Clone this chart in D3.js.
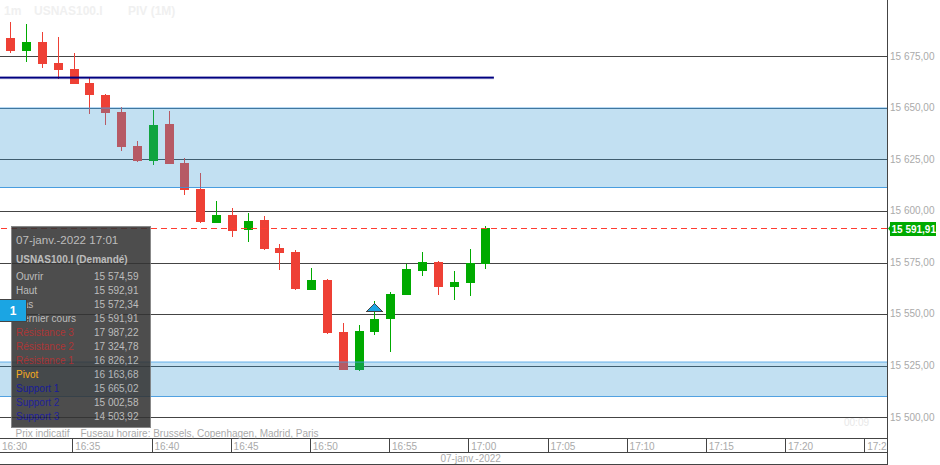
<!DOCTYPE html>
<html>
<head>
<meta charset="utf-8">
<script src="https://cdn.jsdelivr.net/npm/d3@7"></script>
<style>
  body { margin: 0; background: #fff; }
  svg { display: block; font-family: "Liberation Sans", Arial, sans-serif; }
  .crisp { shape-rendering: crispEdges; }
</style>
</head>
<body>
<svg width="940" height="465"></svg>
<script>
const minutes = ["16:31","16:32","16:33","16:34","16:35","16:36","16:37","16:38","16:39","16:40",
  "16:41","16:42","16:43","16:44","16:45","16:46","16:47","16:48","16:49","16:50",
  "16:51","16:52","16:53","16:54","16:55","16:56","16:57","16:58","16:59","17:00","17:01"];
const opens = [15684,15677.65,15682,15671.85,15668.95,15662.15,15656.35,15648.1,15631.6,15624.5,
  15642.3,15623.4,15610.75,15594.3,15598.15,15590.9,15595.75,15582.15,15580.2,15561.8,
  15566.65,15541.45,15523,15541.45,15547.75,15559.4,15571,15575.4,15563.25,15565.2,15574.59];
const closes = [15677.65,15682,15671.5,15668.6,15661.8,15656.35,15647.6,15631.25,15624.5,15641.8,
  15623.05,15610.4,15594.8,15598.15,15590.4,15595.25,15581.7,15579.75,15562.3,15566.65,
  15541,15523,15541.95,15547.75,15559.85,15572,15575.4,15563.25,15565.7,15574.9,15591.91];
const highs = [15691.7,15690.75,15686.9,15684.45,15676.7,15664.9,15656.8,15650.5,15634.05,15649.05,
  15648.6,15625.8,15618.5,15604.95,15601.55,15599.15,15597.7,15584.1,15581.2,15572.45,
  15567.15,15545.8,15544.85,15556.5,15560.85,15574.4,15580.2,15575.85,15571,15581.7,15592.91];
const lows = [15676.85,15672.5,15669.55,15664.25,15661.8,15647.25,15641.8,15629.35,15623.85,15622.55,
  15623.05,15607.85,15594.6,15594.3,15587.65,15585.1,15581.2,15571.5,15561.8,15561.8,
  15540.5,15523,15522.7,15540,15531.75,15559.4,15568.6,15559.4,15557,15558.9,15572.34];

const yTicks = [15500,15525,15550,15575,15600,15625,15650,15675];
const xTicks = ["16:30","16:35","16:40","16:45","16:50","16:55","17:00","17:05","17:10","17:15","17:20","17:25"];

const bandTops = [15650,15527];
const bandBottoms = [15611.6,15510.4];
const pivotLine = 15664.9;
const lastPrice = 15591.91;

const rowLabels = ["Ouvrir","Haut","Bas","Dernier cours","Résistance 3","Résistance 2","Résistance 1","Pivot","Support 1","Support 2","Support 3"];
const rowValues = ["15 574,59","15 592,91","15 572,34","15 591,91","17 987,22","17 324,78","16 826,12","16 163,68","15 665,02","15 002,58","14 503,92"];
const rowColors = ["#b4b4b4","#b4b4b4","#b4b4b4","#b4b4b4","#a01818","#a01818","#a01818","#ffa500","#00008b","#00008b","#00008b"];

const svg = d3.select("svg");
const axisX = 887;
const parseTime = d3.timeParse("%H:%M");
const priceFormat = (d) => d3.format(",.2f")(d).replace(",", " ").replace(".", ",");

const xScale = d3
  .scaleTime()
  .domain([parseTime("16:31"), parseTime("17:01")])
  .range([10.66, 485.86]);

const yScale = d3.scaleLinear().domain([15500, 15675]).range([417.8, 56.8]);

// watermark
const watermark = svg.append("g").attr("fill", "#f0f0f0").attr("font-size", 12).attr("font-weight", "bold");
watermark.append("text").attr("x", 4).attr("y", 15).text("1m");
watermark.append("text").attr("x", 34).attr("y", 15).text("USNAS100.I");
watermark.append("text").attr("x", 128).attr("y", 15).text("PIV (1M)");
svg.append("text").attr("x", 844).attr("y", 426).attr("fill", "#e8e8e8").attr("font-size", 10).text("00:09");

// grid and price labels
const yAxisG = svg
  .append("g")
  .attr("transform", `translate(${axisX}, 0)`)
  .call(
    d3.axisRight(yScale)
      .tickValues(yTicks)
      .tickSize(-axisX)
      .tickPadding(3)
      .tickFormat(priceFormat)
      .offset(0)
  );
yAxisG.select(".domain").remove();
yAxisG.selectAll("line").attr("stroke", "#444").attr("class", "crisp");
yAxisG.selectAll("text")
  .attr("fill", "#aaa")
  .attr("font-size", 10)
  .attr("font-family", "Liberation Sans, Arial, sans-serif")
  .attr("dy", "0.27em");

// candles
const candles = minutes.map((m, i) => ({
  x: Math.floor(xScale(parseTime(m))),
  open: opens[i],
  close: closes[i],
  high: highs[i],
  low: lows[i],
}));
const candleColor = (d) => (d.close < d.open ? "#ee4035" : "#00aa00");

const candleG = svg.append("g").attr("class", "crisp");
candleG.selectAll("line")
  .data(candles)
  .enter()
  .append("line")
  .attr("x1", (d) => d.x + 0.5)
  .attr("x2", (d) => d.x + 0.5)
  .attr("y1", (d) => yScale(d.high))
  .attr("y2", (d) => yScale(d.low))
  .attr("stroke", candleColor);
candleG.selectAll("rect")
  .data(candles)
  .enter()
  .append("rect")
  .attr("x", (d) => d.x - 4)
  .attr("width", 9)
  .attr("y", (d) => yScale(Math.max(d.open, d.close)))
  .attr("height", (d) => Math.abs(yScale(d.open) - yScale(d.close)))
  .attr("fill", candleColor);

// pivot zones, they sit over the candles
const bandG = svg.append("g").attr("class", "crisp");
bandG.selectAll("rect")
  .data(bandTops)
  .enter()
  .append("rect")
  .attr("x", 0)
  .attr("width", axisX)
  .attr("y", (d) => yScale(d))
  .attr("height", (d, i) => yScale(bandBottoms[i]) - yScale(d))
  .attr("fill", "rgba(53,152,213,0.3)");
bandG.selectAll("line.top")
  .data(bandTops)
  .enter()
  .append("line")
  .attr("class", "top")
  .attr("x1", 0)
  .attr("x2", axisX)
  .attr("y1", (d) => yScale(d))
  .attr("y2", (d) => yScale(d))
  .attr("stroke", "rgba(70,160,230,0.4)")
  .attr("stroke-width", 2);
bandG.selectAll("line.bottom")
  .data(bandBottoms)
  .enter()
  .append("line")
  .attr("class", "bottom")
  .attr("x1", 0)
  .attr("x2", axisX)
  .attr("y1", (d) => yScale(d))
  .attr("y2", (d) => yScale(d))
  .attr("stroke", "rgba(50,145,220,0.85)");

// navy line, stops half a bar after the last candle
svg.append("line")
  .attr("x1", 0)
  .attr("x2", xScale(parseTime("17:01")) + 8)
  .attr("y1", yScale(pivotLine))
  .attr("y2", yScale(pivotLine))
  .attr("stroke", "#000080")
  .attr("stroke-width", 1.6);
svg.append("line")
  .attr("x1", 0)
  .attr("x2", xScale(parseTime("17:01")) + 8)
  .attr("y1", yScale(pivotLine))
  .attr("y2", yScale(pivotLine))
  .attr("stroke", "#000080")
  .attr("stroke-opacity", 0.25)
  .attr("stroke-width", 3);

// last price
const lastY = Math.floor(yScale(lastPrice)) + 0.5;
svg.append("line")
  .attr("x1", 1)
  .attr("x2", axisX)
  .attr("y1", lastY)
  .attr("y2", lastY)
  .attr("stroke", "#ff3b30")
  .attr("stroke-dasharray", "6 4");

// x axis frame
const frame = svg.append("g").attr("class", "crisp").attr("stroke", "#444");
frame.append("line").attr("x1", axisX + 0.5).attr("x2", axisX + 0.5).attr("y1", 0).attr("y2", 465);
[438.5, 452.5, 464.5].forEach((y) => {
  frame.append("line").attr("x1", 0).attr("x2", axisX).attr("y1", y).attr("y2", y);
});

svg.append("clipPath").attr("id", "x-clip")
  .append("rect").attr("x", 0).attr("y", 430).attr("width", axisX).attr("height", 35);

const xAxisG = svg
  .append("g")
  .attr("clip-path", "url(#x-clip)")
  .append("g")
  .attr("transform", "translate(-1.2, 439)")
  .call(
    d3.axisBottom(xScale)
      .tickValues(xTicks.map(parseTime))
      .tickSize(13)
      .tickFormat(d3.timeFormat("%H:%M"))
      .offset(0)
  );
xAxisG.select(".domain").remove();
xAxisG.selectAll("line").attr("stroke", "#444").attr("class", "crisp");
xAxisG.selectAll("text")
  .attr("fill", "#aaa")
  .attr("font-size", 10)
  .attr("font-family", "Liberation Sans, Arial, sans-serif")
  .attr("text-anchor", "start")
  .attr("y", 3.5)
  .attr("dy", "0.71em")
  .attr("x", (d) => Math.max(3.2, xScale(d) + 2.4) - xScale(d));

svg.append("text").attr("x", 470.7).attr("y", 462).attr("text-anchor", "middle")
  .attr("fill", "#aaa").attr("font-size", 10).text("07-janv.-2022");
svg.append("text").attr("x", 15.5).attr("y", 436.5)
  .attr("fill", "#aaa").attr("font-size", 10).text("Prix indicatif");
svg.append("text").attr("x", 80.5).attr("y", 436.5)
  .attr("fill", "#aaa").attr("font-size", 10).attr("textLength", 238)
  .text("Fuseau horaire: Brussels, Copenhagen, Madrid, Paris");

// price tag
const tagY = lastY;
svg.append("path")
  .attr("d", `M888,${tagY} L890.5,${tagY - 3} L890.5,${tagY + 3} Z`)
  .attr("fill", "#00aa00");
svg.append("rect").attr("class", "crisp")
  .attr("x", 890).attr("y", tagY - 6.5).attr("width", 46).attr("height", 14).attr("fill", "#00aa00");
svg.append("text").attr("x", 891.5).attr("y", tagY + 4)
  .attr("fill", "#fff").attr("font-size", 10).attr("font-weight", "bold")
  .text(priceFormat(lastPrice));

// signal arrow
const arrowX = Math.floor(xScale(parseTime("16:54"))) + 0.5;
const arrowY = yScale(highs[minutes.indexOf("16:54")]);
svg.append("path")
  .attr("class", "crisp")
  .attr("d", `M${arrowX},${arrowY + 2} L${arrowX + 8},${arrowY + 10} L${arrowX - 8},${arrowY + 10} Z`)
  .attr("fill", "#1ba5e3")
  .attr("stroke", "#444");

// info panel, whole group is see through
const panel = svg.append("g").attr("opacity", 0.87);
panel.append("rect")
  .attr("class", "crisp")
  .attr("x", 11.5).attr("y", 226.5).attr("width", 138.5).attr("height", 200.5)
  .attr("fill", "#333").attr("stroke", "#777");
panel.append("text").attr("x", 16).attr("y", 243.5)
  .attr("fill", "#b4b4b4").attr("font-size", 11.6).text("07-janv.-2022 17:01");
panel.append("text").attr("x", 16).attr("y", 262.5)
  .attr("fill", "#b4b4b4").attr("font-size", 10).attr("font-weight", "bold").text("USNAS100.I (Demandé)");
rowLabels.forEach((label, i) => {
  const y = 279.5 + i * 14;
  panel.append("text").attr("x", 16).attr("y", y)
    .attr("fill", rowColors[i]).attr("font-size", 10).text(label);
  panel.append("text").attr("x", 138.5).attr("y", y).attr("text-anchor", "end")
    .attr("fill", "#b4b4b4").attr("font-size", 10).text(rowValues[i]);
});

// badge
svg.append("rect").attr("class", "crisp")
  .attr("x", -1).attr("y", 299.5).attr("width", 27).attr("height", 22)
  .attr("fill", "#1ba5e3").attr("stroke", "#444");
svg.append("text").attr("x", 13).attr("y", 315).attr("text-anchor", "middle")
  .attr("fill", "#fff").attr("font-size", 12).attr("font-weight", "bold").text("1");
</script>
</body>
</html>
